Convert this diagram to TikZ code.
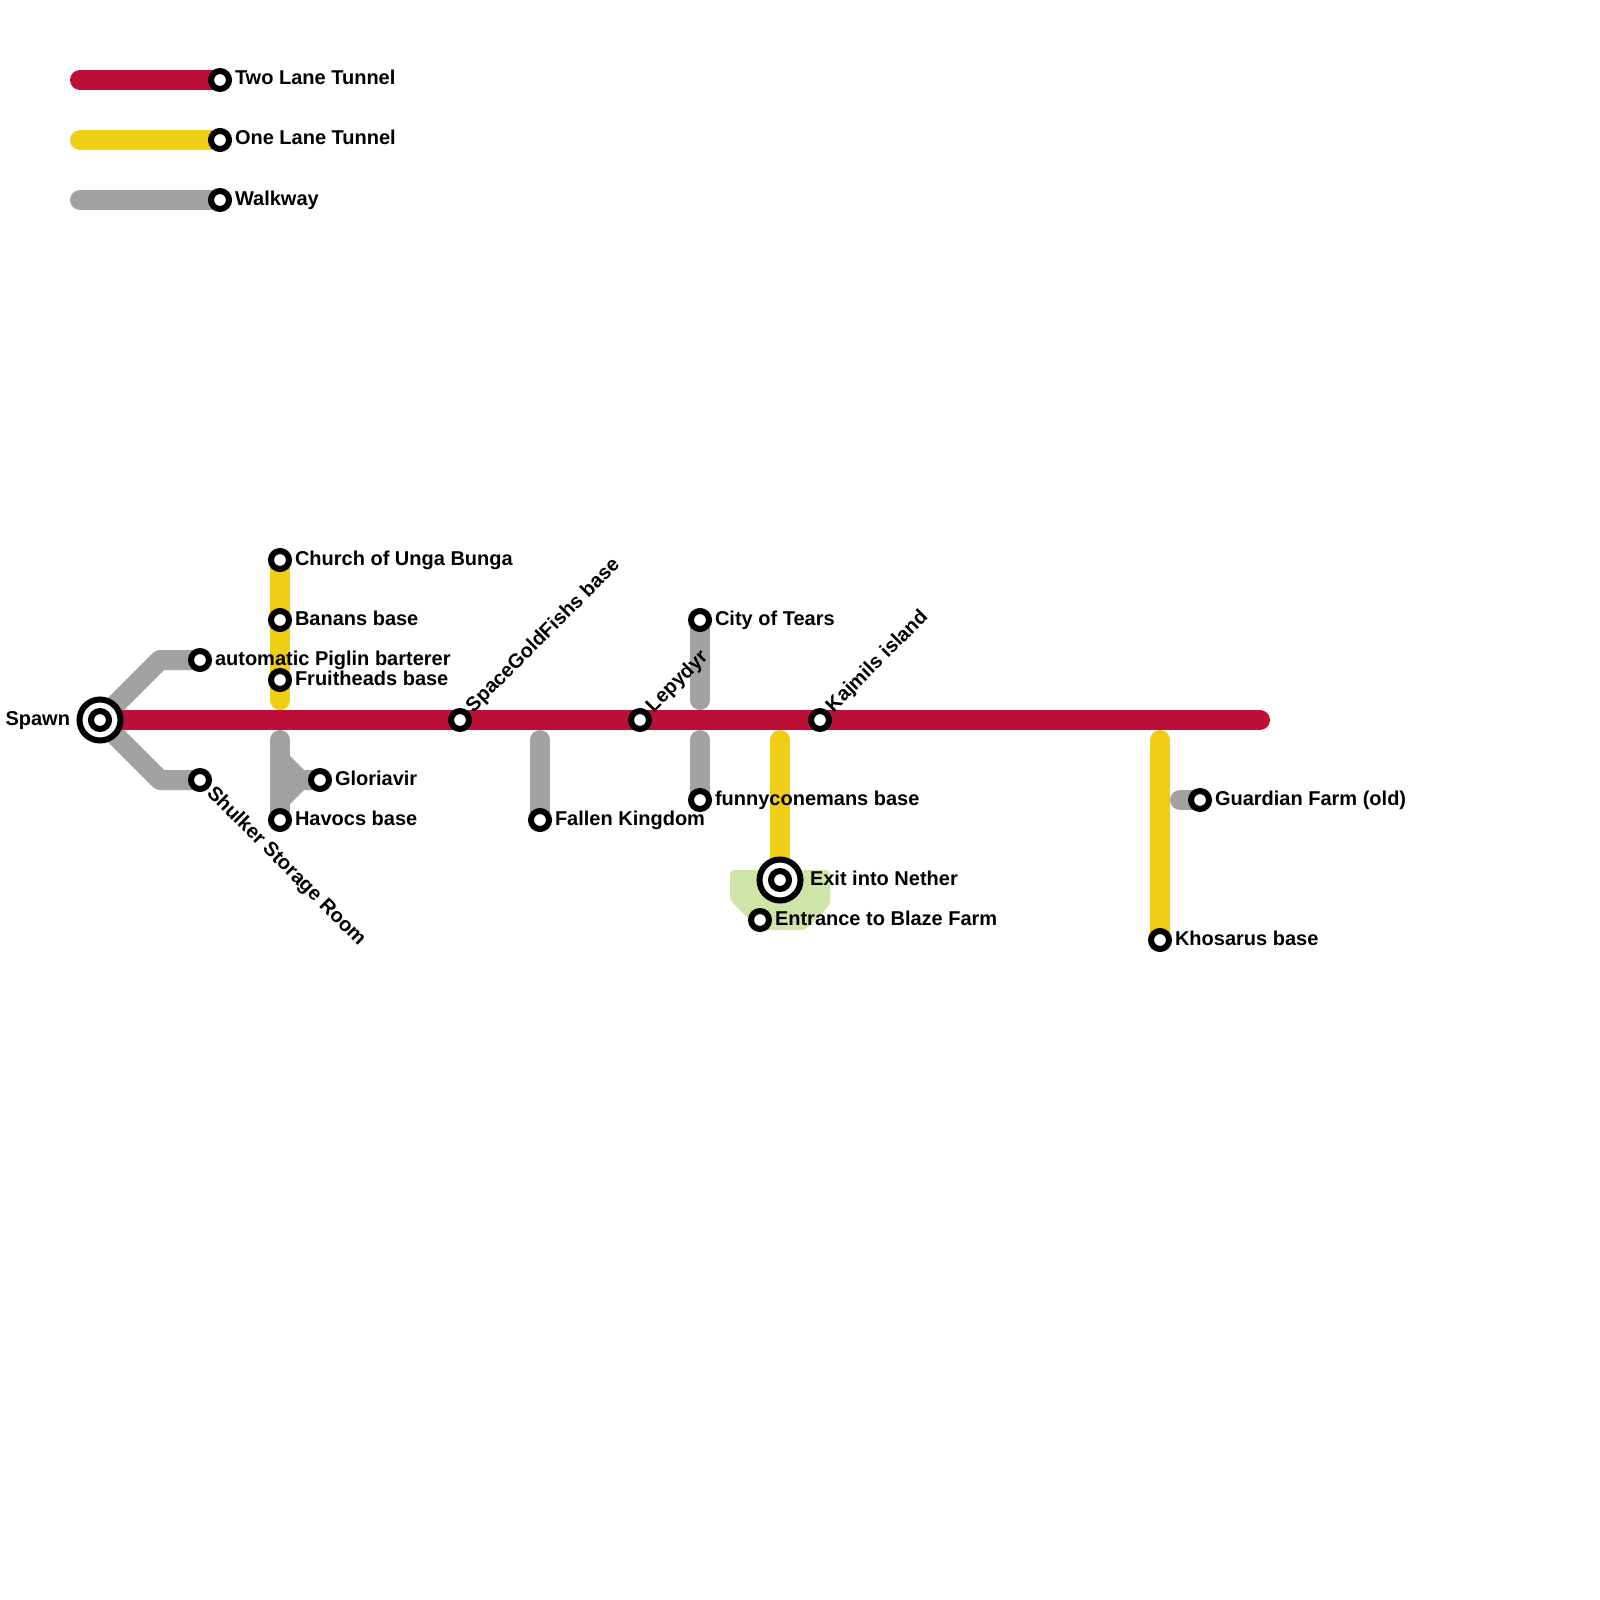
\documentclass[tikz,border=0pt]{standalone}
\usepackage{fontspec}
\setmainfont{Liberation Sans}
\usetikzlibrary{backgrounds}
\definecolor{tunnelred}{HTML}{BC1038}
\definecolor{tunnelyellow}{HTML}{F0CE15}
\definecolor{walkgrey}{HTML}{A2A2A2}
\definecolor{farmgreen}{HTML}{CFE4A7}
\tikzset{
  x=0.5pt,y=-0.5pt,
  track/.style={line width=10pt,line cap=round,line join=round},
  redline/.style={track,draw=tunnelred},
  yellowline/.style={track,draw=tunnelyellow},
  greyline/.style={track,draw=walkgrey},
  stn/.style={circle,draw=black,fill=white,line width=3pt,inner sep=0pt,minimum size=9pt,outer sep=0pt},
  hub/.style={circle,draw=black,fill=white,line width=3pt,inner sep=0pt,minimum size=20.5pt,outer sep=0pt},
  lab/.style={anchor=base west,inner sep=0pt,outer sep=0pt,font=\fontsize{10pt}{11pt}\selectfont\bfseries,text=black},
  labr/.style={lab,xshift=7.5pt,yshift=-2.5pt},
  labup/.style={lab,xshift=6.8pt,yshift=3.5pt,rotate=45},
  labdown/.style={lab,xshift=3pt,yshift=-7pt,rotate=-45},
}
\begin{document}
\begin{tikzpicture}
\useasboundingbox (0,0) rectangle (1600,1600);
% legend
\coordinate (la) at (80,80); \coordinate (lb) at (80,140); \coordinate (lc) at (80,200);
\node[stn] (k1) at (220,80) {};
\node[stn] (k2) at (220,140) {};
\node[stn] (k3) at (220,200) {};
% hubs
\node[hub] (spawnring) at (100,720) {};
\node[stn] (spawn) at (100,720) {};
\node[hub] (netherring) at (780,880) {};
\node[stn] (nether) at (780,880) {};
% stations
\node[stn] (church) at (280,560) {};
\node[stn] (banans) at (280,620) {};
\node[stn] (fruit) at (280,680) {};
\node[stn] (piglin) at (200,660) {};
\node[stn] (shulker) at (200,780) {};
\node[stn] (glor) at (320,780) {};
\node[stn] (havocs) at (280,820) {};
\node[stn] (space) at (460,720) {};
\node[stn] (fallen) at (540,820) {};
\node[stn] (lepy) at (640,720) {};
\node[stn] (tears) at (700,620) {};
\node[stn] (funny) at (700,800) {};
\node[stn] (kaj) at (820,720) {};
\node[stn] (blaze) at (760,920) {};
\node[stn] (khos) at (1160,940) {};
\node[stn] (guard) at (1200,800) {};
% free ends and bends
\coordinate (mainend) at (1260,720);
\coordinate (yA) at (280,700);
\coordinate (gA) at (280,740);
\coordinate (gB) at (540,740);
\coordinate (gC) at (700,700);
\coordinate (gD) at (700,740);
\coordinate (yB) at (780,740);
\coordinate (yC) at (1160,740);
\coordinate (gE) at (1180,800);
\coordinate (bend1) at (160,660);
\coordinate (bend2) at (160,780);
\coordinate (j1) at (280,760);
\coordinate (j2) at (300,780);
\coordinate (j3) at (280,800);
\begin{scope}[on background layer]
  \fill[farmgreen,rounded corners=2pt] (730,870) -- (730,900) -- (760,930) -- (805,930) -- (830,905) -- (830,870) -- cycle;
  \draw[greyline] (lc) -- (k3.center);
  \draw[greyline] (spawn.center) -- (bend1) -- (piglin.center);
  \draw[greyline] (spawn.center) -- (bend2) -- (shulker.center);
  \draw[greyline] (gA) -- (havocs.center);
  \draw[greyline] (j1) -- (j2) -- (glor.center);
  \draw[greyline] (j3) -- (j2);
  \draw[greyline] (gB) -- (fallen.center);
  \draw[greyline] (tears.center) -- (gC);
  \draw[greyline] (gD) -- (funny.center);
  \draw[greyline] (gE) -- (guard.center);
  \draw[yellowline] (lb) -- (k2.center);
  \draw[yellowline] (church.center) -- (yA);
  \draw[yellowline] (yB) -- (nether.center);
  \draw[yellowline] (yC) -- (khos.center);
  \draw[redline] (la) -- (k1.center);
  \draw[redline] (spawn.center) -- (mainend);
\end{scope}
% labels
\node[labr] (t1) at (k1) {Two Lane Tunnel};
\node[labr] (t2) at (k2) {One Lane Tunnel};
\node[labr] (t3) at (k3) {Walkway};
\node[lab,anchor=base east,xshift=-15pt,yshift=-2.5pt] (t4) at (spawn) {Spawn};
\node[labr] (t5) at (church) {Church of Unga Bunga};
\node[labr] (t6) at (banans) {Banans base};
\node[labr] (t7) at (piglin) {automatic Piglin barterer};
\node[labr] (t8) at (fruit) {Fruitheads base};
\node[labdown] (t9) at (shulker) {Shulker Storage Room};
\node[labr] (t10) at (glor) {Gloriavir};
\node[labr] (t11) at (havocs) {Havocs base};
\node[labup] (t12) at (space) {SpaceGoldFishs base};
\node[labr] (t13) at (fallen) {Fallen Kingdom};
\node[labup] (t14) at (lepy) {Lepydyr};
\node[labr] (t15) at (tears) {City of Tears};
\node[labr] (t16) at (funny) {funnyconemans base};
\node[labup] (t17) at (kaj) {Kajmils island};
\node[lab,xshift=15pt,yshift=-2.5pt] (t18) at (nether) {Exit into Nether};
\node[labr] (t19) at (blaze) {Entrance to Blaze Farm};
\node[labr] (t20) at (khos) {Khosarus base};
\node[labr] (t21) at (guard) {Guardian Farm (old)};
\end{tikzpicture}
\end{document}
